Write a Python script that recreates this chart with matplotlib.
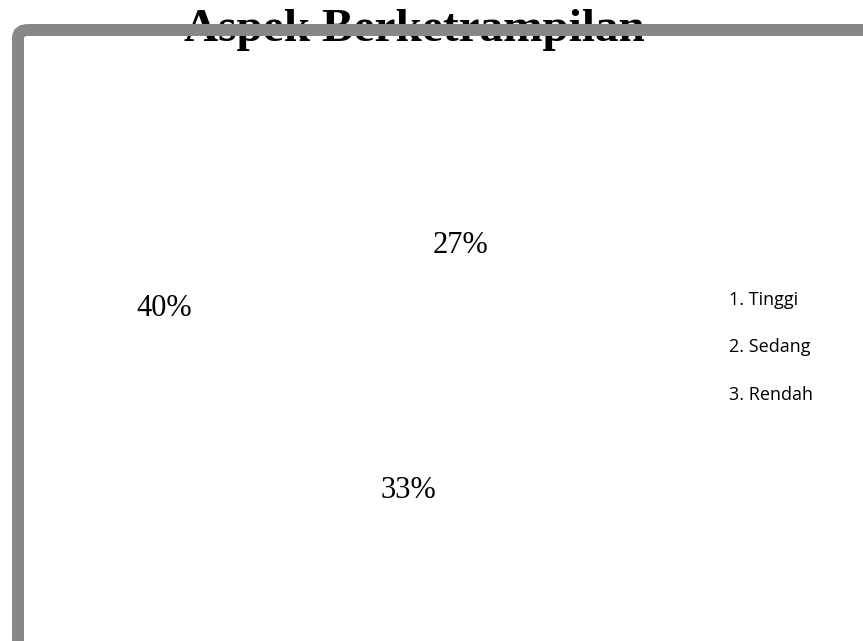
import matplotlib.pyplot as plt
from matplotlib.patches import FancyBboxPatch

categories = ['Tinggi', 'Sedang', 'Rendah']
values = [27, 33, 40]
title = 'Aspek Berketrampilan'

fig = plt.figure(figsize=(8.63, 6.41), dpi=100)
fig.patch.set_facecolor('white')

# pie with white wedges: only the percent labels show
# slightly flattened so the labels sit where the original ones do
cx, cy = 333, 641 - 351
Rx, Ry = 176 / 1.17, 154 / 1.17
lim = 1.25
ax = fig.add_axes([(cx - lim * Rx) / 863, (cy - lim * Ry) / 641,
                   2 * lim * Rx / 863, 2 * lim * Ry / 641])
wedges, texts, autotexts = ax.pie(values, startangle=92, counterclock=False,
                                  colors=['white'] * 3, autopct='%1.0f%%',
                                  pctdistance=1.17, radius=1,
                                  wedgeprops=dict(linewidth=0))
for t in autotexts:
    t.set_fontfamily('Liberation Serif')
    t.set_fontsize(22)
    t.set_color('black')
ax.set_xlim(-lim, lim)
ax.set_ylim(-lim, lim)
ax.set_aspect('auto')
ax.axis('off')

labels = ['%d. %s' % (i + 1, c) for i, c in enumerate(categories)]
leg = fig.legend(wedges, labels, loc='upper left', bbox_to_anchor=(729 / 863, 1 - 291 / 641),
                 frameon=False, handlelength=0, handletextpad=0, labelspacing=1.62,
                 borderaxespad=0, borderpad=0,
                 prop=dict(family='Open Sans', size=13))
for h in leg.legend_handles:
    h.set_visible(False)

fig.text(414 / 863, 1 - 41 / 641, title, ha='center', va='baseline',
         fontfamily='Liberation Serif', fontweight='bold', fontsize=34, zorder=1)

# grey frame drawn over the title
frame = FancyBboxPatch((18 / 863, -0.2), 1.2, 1 - 30 / 641 + 0.2,
                       boxstyle='round,pad=0,rounding_size=0.012',
                       transform=fig.transFigure, facecolor='none',
                       edgecolor='#878787', linewidth=8.6, zorder=5)
fig.patches.append(frame)

fig.savefig('out.png', dpi=100)
